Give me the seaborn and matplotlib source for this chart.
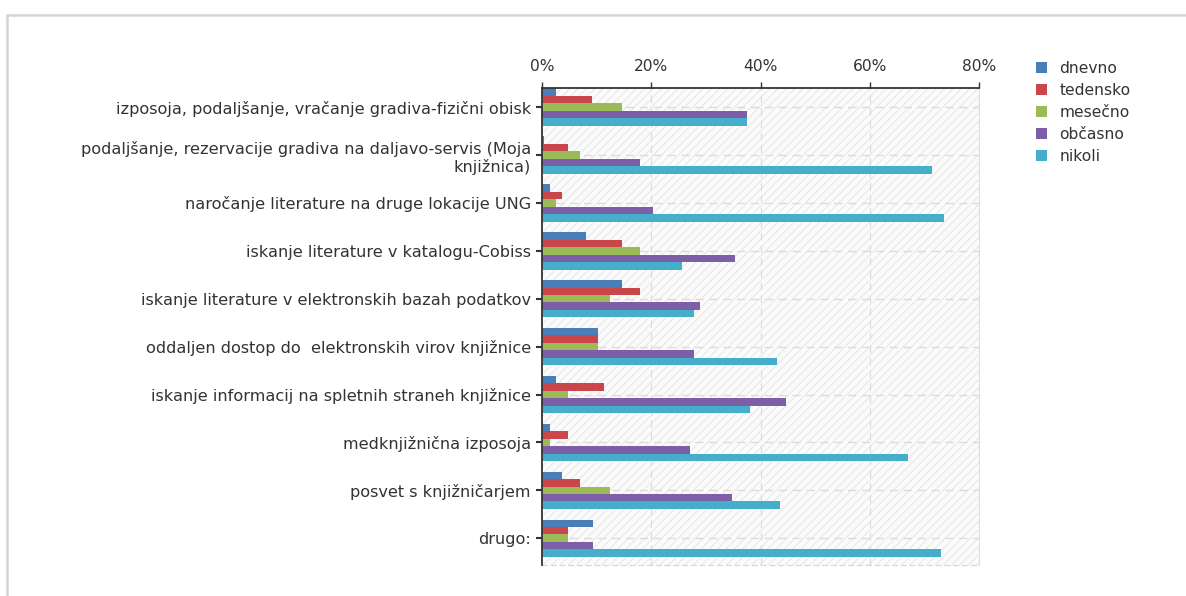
import matplotlib
matplotlib.use('Agg')
import matplotlib.pyplot as plt
import seaborn as sns
import pandas as pd
from matplotlib.lines import Line2D
from matplotlib.patches import Rectangle
from matplotlib.ticker import PercentFormatter

kategorije = [
    "izposoja, podaljšanje, vračanje gradiva-fizični obisk",
    "podaljšanje, rezervacije gradiva na daljavo-servis (Moja\nknjižnica)",
    "naročanje literature na druge lokacije UNG",
    "iskanje literature v katalogu-Cobiss",
    "iskanje literature v elektronskih bazah podatkov",
    "oddaljen dostop do  elektronskih virov knjižnice",
    "iskanje informacij na spletnih straneh knjižnice",
    "medknjižnična izposoja",
    "posvet s knjižničarjem",
    "drugo:",
]
odgovori = ["dnevno", "tedensko", "mesečno", "občasno", "nikoli"]

dnevno = [2.6, 0.4, 1.5, 8.1, 14.6, 10.3, 2.6, 1.5, 3.7, 9.4]
tedensko = [9.2, 4.7, 3.7, 14.6, 17.9, 10.3, 11.4, 4.8, 7.0, 4.8]
mesecno = [14.6, 7.0, 2.6, 17.9, 12.5, 10.3, 4.8, 1.5, 12.5, 4.8]
obcasno = [37.5, 17.9, 20.3, 35.3, 28.9, 27.8, 44.7, 27.1, 34.7, 9.4]
nikoli = [37.5, 71.4, 73.6, 25.6, 27.8, 43.0, 38.1, 67.0, 43.6, 73.0]

barve = ["#4a7ebb", "#c9474a", "#9bbb59", "#7f5ea8", "#45aecb"]

vrednosti = [dnevno, tedensko, mesecno, obcasno, nikoli]
vrstice = []
for odg, serija in zip(odgovori, vrednosti):
    for kat, v in zip(kategorije, serija):
        vrstice.append({"kategorija": kat, "odgovor": odg, "delez": v})
df = pd.DataFrame(vrstice)

sns.set_style("white")
plt.rcParams['font.family'] = ['DejaVu Sans']
plt.rcParams['hatch.color'] = '#e8e8e8'
plt.rcParams['hatch.linewidth'] = 0.8

FS = 11.2

fig = plt.figure(figsize=(11.86, 5.96), dpi=100)
ax = fig.add_axes([542 / 1186, 1 - 565 / 596, (979 - 542) / 1186, (565 - 88) / 596])

# hatched background
ax.add_patch(Rectangle((0, 0), 1, 1, transform=ax.transAxes, facecolor='#fbfbfb',
                       edgecolor='#e8e8e8', hatch='////', linewidth=0, zorder=0))

sns.barplot(data=df, y="kategorija", x="delez", hue="odgovor", hue_order=odgovori,
            order=kategorije, palette=barve, orient="h", width=0.78, gap=0,
            saturation=1, linewidth=0, ax=ax, legend=True, zorder=3)

ax.set_xlim(0, 80)
ax.set_ylim(9.56, -0.4)
ax.set_xticks([0, 20, 40, 60, 80])
ax.xaxis.set_major_formatter(PercentFormatter(decimals=0))
ax.xaxis.tick_top()
ax.set_xlabel("")
ax.set_ylabel("")

ax.tick_params(axis='x', direction='out', length=4, width=1, color='#333333',
               labelsize=FS, labelcolor='#333333', pad=6)
ax.tick_params(axis='y', direction='out', length=4, width=1.5, color='#333333',
               labelsize=11.6, labelcolor='#333333', pad=4, left=True)
for lbl in ax.get_yticklabels():
    lbl.set_horizontalalignment('right')
    lbl.set_multialignment('right')

for v in [20, 40, 60, 80]:
    ax.axvline(v, color='#dcdcdc', linestyle=(0, (6, 4)), linewidth=0.9, zorder=1)
for i in range(len(kategorije)):
    ax.axhline(i, color='#dcdcdc', linestyle=(0, (6, 4)), linewidth=1.0, zorder=1)

for s in ['top', 'left']:
    ax.spines[s].set_visible(True)
    ax.spines[s].set_color('#333333')
    ax.spines[s].set_linewidth(1.3)
    ax.spines[s].set_zorder(6)
ax.spines['right'].set_color('#e0e0e0')
ax.spines['right'].set_linewidth(0.8)
ax.spines['bottom'].set_color('#d8d8d8')
ax.spines['bottom'].set_linestyle((0, (4, 3)))
ax.spines['bottom'].set_linewidth(0.9)

leg = ax.legend(loc='upper left', bbox_to_anchor=(1030 / 1186, 1 - 55 / 596),
                bbox_transform=fig.transFigure, frameon=False, fontsize=FS,
                handlelength=0.7, handleheight=0.7, handletextpad=0.8,
                labelspacing=0.45, borderaxespad=0)
for t in leg.get_texts():
    t.set_color('#333333')

# outer panel border
fig.add_artist(Line2D([7 / 1186, 1], [1 - 15 / 596, 1 - 15 / 596], color='#d5d5d5',
                      linewidth=1.8, transform=fig.transFigure))
fig.add_artist(Line2D([7 / 1186, 7 / 1186], [0, 1 - 15 / 596], color='#d5d5d5',
                      linewidth=1.8, transform=fig.transFigure))

fig.savefig("out.png", dpi=100)
plt.close()
